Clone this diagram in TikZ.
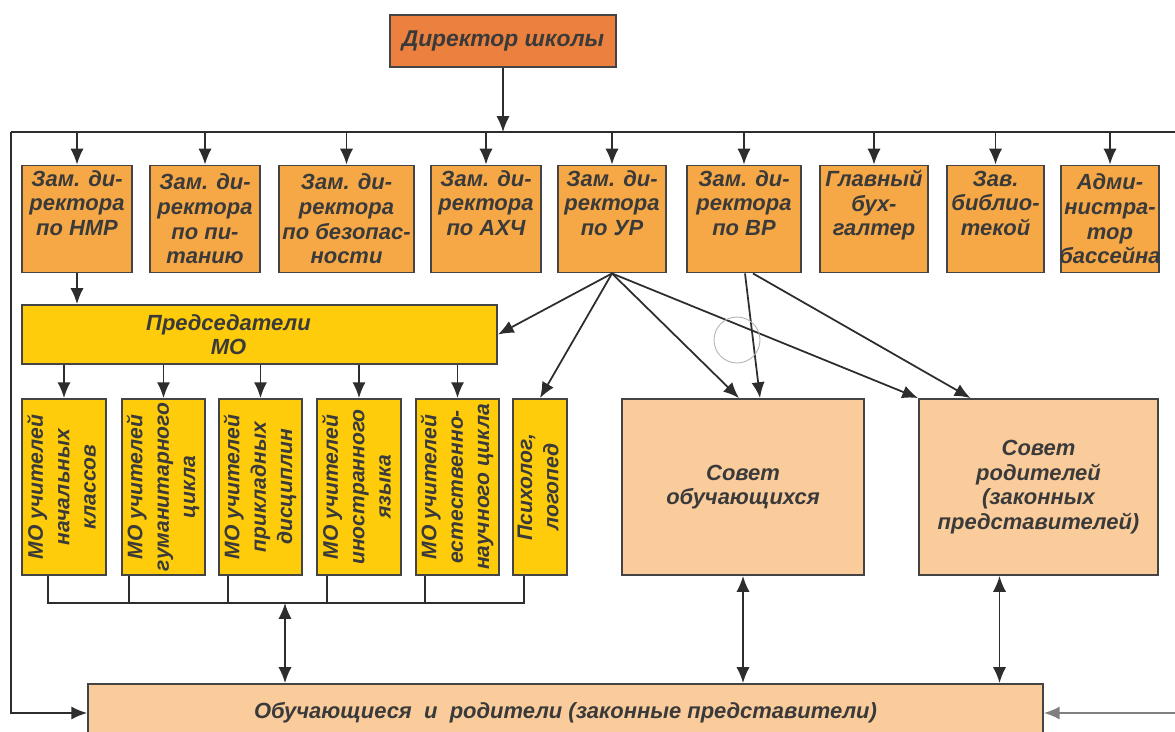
\documentclass[tikz,border=0pt]{standalone}
\usepackage{fontspec}
\setmainfont{Liberation Sans}
\usepackage{graphicx}
\usetikzlibrary{arrows.meta,calc}

\definecolor{dirorange}{RGB}{236,128,62}
\definecolor{zamorange}{RGB}{246,168,70}
\definecolor{moyellow}{RGB}{254,204,10}
\definecolor{sovpeach}{RGB}{250,204,156}
\definecolor{boxline}{RGB}{68,68,68}
\definecolor{linkgray}{RGB}{45,45,45}
\definecolor{textgray}{RGB}{58,58,58}

\newcommand{\vlines}[1]{\rotatebox{90}{\begin{tabular}{@{}c@{}}#1\end{tabular}}}

\tikzset{
  box/.style={draw=boxline,line width=1.1pt,inner sep=1pt,align=center,text=textgray,
    font=\bfseries\itshape\fontsize{12.5}{14}\selectfont},
  dirbox/.style={box,fill=dirorange,font=\bfseries\itshape\fontsize{13}{14}\selectfont},
  zambox/.style={box,fill=zamorange,minimum height=2.14cm},
  mobox/.style={box,fill=moyellow,inner sep=0.5pt,minimum height=3.52cm,
    font=\bfseries\itshape\fontsize{12}{15}\selectfont},
  sovbox/.style={box,fill=sovpeach},
  arr/.style={draw=linkgray,line width=1pt,-{Latex[length=9pt,width=7.5pt]}},
  darr/.style={draw=linkgray,line width=1pt,{Latex[length=9pt,width=7.5pt]}-{Latex[length=9pt,width=7.5pt]}},
  link/.style={draw=linkgray,line width=1pt}
}

\begin{document}
\begin{tikzpicture}[x=0.02cm,y=-0.02cm]
        \useasboundingbox (0,0) rectangle (1175,731);
        \node[dirbox,minimum width=4.52cm,minimum height=1.04cm] (dir) at (503,41) {Директор школы};
        \node[zambox,minimum width=2.2cm] (nmr) at (77,219) {Зам. ди-\\ректора\\по НМР\\\strut};
        \node[zambox,minimum width=2.2cm] (pit) at (205,219) {Зам. ди-\\ректора\\по пи-\\танию};
        \node[zambox,minimum width=2.7cm] (bez) at (346.5,219) {Зам. ди-\\ректора\\по безопас-\\ности};
        \node[zambox,minimum width=2.2cm] (ahch) at (486,219) {Зам. ди-\\ректора\\по АХЧ\\\strut};
        \node[zambox,minimum width=2.16cm] (ur) at (612,219) {Зам. ди-\\ректора\\по УР\\\strut};
        \node[zambox,minimum width=2.28cm] (vr) at (744,219) {Зам. ди-\\ректора\\по ВР\\\strut};
        \node[zambox,minimum width=2.16cm] (buh) at (874,219) {Главный\\бух-\\галтер\\\strut};
        \node[zambox,minimum width=1.94cm] (bib) at (995.5,219) {Зав.\\библио-\\текой\\\strut};
        \node[zambox,minimum width=1.96cm] (adm) at (1110,219) {Адми-\\нистра-\\тор\\\makebox[1.8cm]{бассейна}};
        \node[box,fill=moyellow,minimum width=9.5cm,minimum height=1.18cm] (pred) at (259.5,334.5)
          {Председатели\hspace*{1.24cm}\\МО\hspace*{1.24cm}};
        \node[mobox,minimum width=1.68cm] (mo1) at (64,487) {\vlines{МО учителей\\начальных\\классов}};
        \node[mobox,minimum width=1.66cm] (mo2) at (163.5,487) {\vlines{МО учителей\\\makebox[3.4cm]{гуманитарного}\\цикла}};
        \node[mobox,minimum width=1.66cm] (mo3) at (260.5,487) {\vlines{МО учителей\\прикладных\\дисциплин}};
        \node[mobox,minimum width=1.68cm] (mo4) at (359,487) {\vlines{МО учителей\\иностранного\\языка}};
        \node[mobox,minimum width=1.66cm] (mo5) at (457.5,487) {\vlines{МО учителей\\естественно-\\научного цикла}};
        \node[mobox,minimum width=1.04cm] (psy) at (540,487) {\vlines{Психолог,\\логопед}};
        \node[sovbox,minimum width=4.84cm,minimum height=3.52cm] (sovo) at (743,487) {Совет\\обучающихся};
        \node[sovbox,minimum width=4.78cm,minimum height=3.52cm] (sovr) at (1038.5,487)
          {Совет\\родителей\\(законных\\представителей)};
        \node[sovbox,minimum width=19.1cm,minimum height=1.16cm] (obuch) at (565.5,713)
          {Обучающиеся\ \ и\ \ родители (законные представители)};
        \coordinate (busL) at (11,132);
        \coordinate (busR) at (1175,132);
        \coordinate (mobus) at (285,603);
        \coordinate (sovrlink) at ($(sovr.south)+(-39,0)$);
        \draw[arr] (dir.south) -- (dir.south |- busL);
        \draw[link] (busR) -- (busL);
        \draw[arr] (busL) |- (obuch.west);
        \draw[arr,draw=gray] (obuch.east -| busR) -- (obuch.east);
        \foreach \n in {nmr,pit,bez,ahch,ur,vr,buh,bib,adm}
          \draw[arr] (\n.north |- busL) -- (\n.north);
        \draw[arr] (nmr.south) -- (nmr.south |- pred.north);
        \foreach \n in {mo1,mo2,mo3,mo4,mo5}
          \draw[arr] (\n.north |- pred.south) -- (\n.north);
        \draw[arr] (ur.south) -- (pred.east);
        \draw[arr] (ur.south) -- (psy.north);
        \draw[arr] (ur.south) -- ($(sovo.north)+(-4,0)$);
        \draw[arr] (ur.south) -- (sovr.north west);
        \draw[arr] ($(vr.south)+(1,0)$) -- ($(sovo.north)+(17,0)$);
        \draw[arr] ($(vr.south)+(9,0)$) -- ($(sovr.north)+(-68,0)$);
        \foreach \n/\d in {mo1/27,mo2/8,mo3/10,mo4/11,mo5/10,psy/12}
          \draw[link] ($(\n.south west)+(\d,0)$) |- (mobus);
        \draw[darr] (mobus) -- (mobus |- obuch.north);
        \draw[darr] (sovo.south) -- (sovo.south |- obuch.north);
        \draw[darr] (sovrlink) -- (sovrlink |- obuch.north);
        \draw[gray!60,line width=0.5pt] (737,340) circle[radius=0.46cm];
      \end{tikzpicture}
\end{document}
